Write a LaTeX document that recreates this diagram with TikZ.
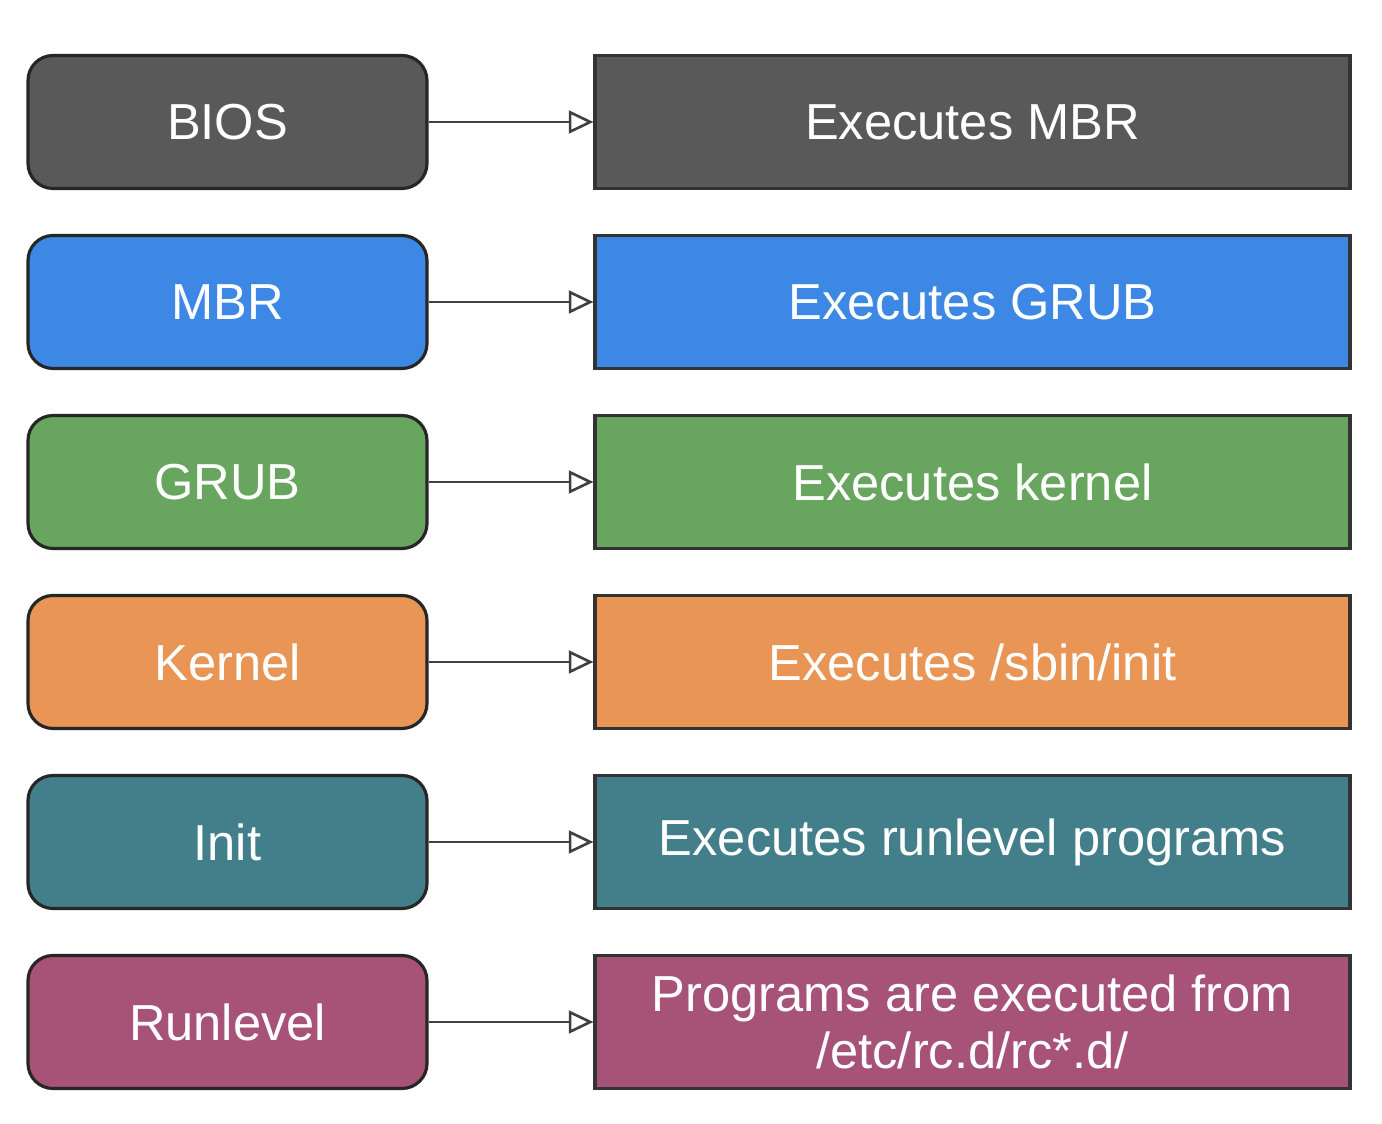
\documentclass[tikz,border=0pt]{standalone}
\usepackage{fontspec}
\setmainfont{Liberation Sans}
\usetikzlibrary{arrows.meta}
\definecolor{bootgray}{HTML}{595959}
\definecolor{bootblue}{HTML}{3D87E5}
\definecolor{bootgreen}{HTML}{68A55E}
\definecolor{bootorange}{HTML}{E89556}
\definecolor{bootteal}{HTML}{437F8A}
\definecolor{bootpurple}{HTML}{A75377}
\tikzset{
  stagebox/.style={draw=black!85, line width=0.9pt, rounded corners=0.25cm,
    minimum width=3.99cm, minimum height=1.33cm, text=white,
    font=\fontsize{14.4}{16.2}\selectfont},
  actionbox/.style={draw=black!80, line width=0.9pt,
    minimum width=7.55cm, minimum height=1.33cm, text=white, align=center,
    font=\fontsize{14.4}{16.2}\selectfont},
  handoff/.style={draw=black!75, line width=0.75pt, -{Triangle[open, length=7pt, width=6.5pt]}}
}
\begin{document}
\begin{tikzpicture}
    \useasboundingbox (0, 0) rectangle (13.82, -11.24);
    \foreach \i/\col/\stage/\action in {
        0/bootgray/{BIOS}/{Executes MBR},
        1/bootblue/{MBR}/{Executes GRUB},
        2/bootgreen/{GRUB}/{Executes kernel},
        3/bootorange/{Kernel}/{Executes /sbin/init},
        4/bootteal/{Init}/{Executes runlevel programs},
        5/bootpurple/{Runlevel}/{Programs are executed from\\/etc/rc.d/rc*.d/}} {
        \node[stagebox, fill=\col] (stage\i) at (2.275, -1.22 - 1.8*\i) {\stage};
        \node[actionbox, fill=\col] (action\i) at (9.725, -1.22 - 1.8*\i) {\action};
        \draw[handoff] (stage\i.east) -- (action\i.west);
    }
\end{tikzpicture}
\end{document}
